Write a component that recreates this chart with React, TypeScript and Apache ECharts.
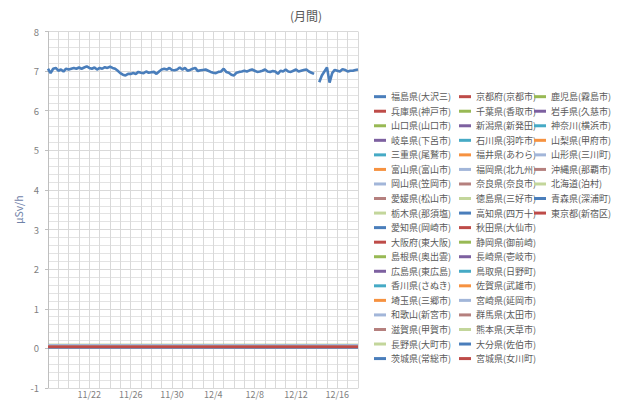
import React, { useEffect, useRef } from 'react';
import * as echarts from 'echarts';

// ---- data ----
const titleText = '(月間)';
const yAxisName = 'μSv/h';
const dayCount = 30; // 11/18 .. 12/18
const tickLabelDays = [4, 8, 12, 16, 20, 24, 28];
const tickLabels = ['11/22', '11/26', '11/30', '12/4', '12/8', '12/12', '12/16'];
const stepDays = 0.25; // Fukushima sampled every 6 hours

const fukushima: (number | null)[] = [
  7.06, 6.95, 7.06, 7.08, 7.01, 7.04, 6.99, 7.06, 7.04, 7.06,
  7.08, 7.06, 7.09, 7.06, 7.09, 7.12, 7.08, 7.06, 7.09, 7.04,
  7.08, 7.06, 7.10, 7.08, 7.11, 7.08, 7.06, 7.01, 6.95, 6.91,
  6.89, 6.93, 6.93, 6.95, 6.93, 6.98, 6.96, 6.95, 6.99, 6.96,
  6.97, 6.98, 6.93, 6.99, 7.04, 7.06, 7.04, 7.08, 7.03, 7.02,
  7.04, 7.09, 7.04, 7.08, 7.01, 7.03, 7.06, 7.08, 7.00, 7.02,
  7.03, 7.04, 7.01, 6.98, 6.96, 6.95, 6.98, 6.99, 7.06, 6.98,
  6.96, 6.91, 6.89, 6.96, 6.98, 6.99, 7.01, 6.99, 7.02, 7.04,
  7.01, 6.98, 6.99, 7.01, 7.04, 6.99, 6.98, 7.00, 6.99, 6.93,
  7.01, 6.99, 7.04, 6.99, 6.98, 7.01, 7.04, 6.99, 7.01, 7.03,
  7.04, 6.99, 6.96, 6.93,
  null,
  6.72, 6.89, 6.99, 7.09, 6.71,
  6.95, 7.03, 7.01, 6.99, 7.05, 7.03, 6.99, 7.01, 7.01, 7.03, 7.04,
];

const legendCol1 = [
  '福島県(大沢三)', '兵庫県(神戸市)', '山口県(山口市)', '岐阜県(下呂市)', '三重県(尾鷲市)',
  '富山県(富山市)', '岡山県(笠岡市)', '愛媛県(松山市)', '栃木県(那須塩)', '愛知県(岡崎市)',
  '大阪府(東大阪)', '島根県(奥出雲)', '広島県(東広島)', '香川県(さぬき)', '埼玉県(三郷市)',
  '和歌山(新宮市)', '滋賀県(甲賀市)', '長野県(大町市)', '茨城県(常総市)',
];
const legendCol2 = [
  '京都府(京都市)', '千葉県(香取市)', '新潟県(新発田)', '石川県(羽咋市)', '福井県(あわら)',
  '福岡県(北九州)', '奈良県(奈良市)', '徳島県(三好市)', '高知県(四万十)', '秋田県(大仙市)',
  '静岡県(御前崎)', '長崎県(壱岐市)', '鳥取県(日野町)', '佐賀県(武雄市)', '宮崎県(延岡市)',
  '群馬県(太田市)', '熊本県(天草市)', '大分県(佐伯市)', '宮城県(女川町)',
];
const legendCol3 = [
  '鹿児島(霧島市)', '岩手県(久慈市)', '神奈川(横浜市)', '山梨県(甲府市)', '山形県(三川町)',
  '沖縄県(那覇市)', '北海道(泊村)', '青森県(深浦町)', '東京都(新宿区)',
];

// other prefectures: readings at days 0, 10, 20, 30 (same order as legend, after Fukushima)
const lowDays = [0, 10, 20, 30];
const lowLevels: number[][] = [
  [0.04, 0.04, 0.05, 0.04], [0.09, 0.09, 0.09, 0.09], [0.06, 0.06, 0.06, 0.06], [0.05, 0.05, 0.05, 0.05],
  [0.06, 0.06, 0.05, 0.06], [0.05, 0.05, 0.05, 0.05], [0.05, 0.05, 0.05, 0.05], [0.07, 0.07, 0.07, 0.07],
  [0.04, 0.04, 0.04, 0.04], [0.05, 0.05, 0.05, 0.05], [0.04, 0.04, 0.04, 0.04], [0.05, 0.05, 0.05, 0.05],
  [0.05, 0.05, 0.05, 0.05], [0.05, 0.05, 0.05, 0.05], [0.03, 0.03, 0.03, 0.03], [0.03, 0.03, 0.03, 0.03],
  [0.05, 0.05, 0.05, 0.05], [0.06, 0.06, 0.06, 0.06],
  [0.04, 0.04, 0.04, 0.04], [0.03, 0.03, 0.03, 0.03], [0.05, 0.05, 0.05, 0.05], [0.05, 0.05, 0.05, 0.05],
  [0.05, 0.05, 0.05, 0.05], [0.04, 0.04, 0.04, 0.04], [0.05, 0.05, 0.05, 0.05], [0.04, 0.04, 0.04, 0.04],
  [0.02, 0.02, 0.02, 0.02], [0.04, 0.04, 0.04, 0.04], [0.04, 0.04, 0.04, 0.04], [0.03, 0.03, 0.03, 0.03],
  [0.06, 0.06, 0.06, 0.06], [0.04, 0.04, 0.04, 0.04], [0.03, 0.03, 0.03, 0.03], [0.07, 0.07, 0.07, 0.07],
  [0.03, 0.03, 0.03, 0.03], [0.05, 0.05, 0.05, 0.05], [0.05, 0.05, 0.05, 0.05],
  [0.04, 0.04, 0.04, 0.04], [0.02, 0.02, 0.02, 0.02], [0.04, 0.04, 0.04, 0.04], [0.04, 0.04, 0.04, 0.04],
  [0.08, 0.08, 0.08, 0.08], [0.06, 0.06, 0.06, 0.06], [0.03, 0.03, 0.03, 0.03], [0.03, 0.03, 0.03, 0.03],
  [0.04, 0.04, 0.04, 0.04],
];

const palette = ['#4A7EBB', '#BE4B48', '#98B954', '#7D60A0', '#46AAC5', '#F69240', '#A2B6D9', '#B5807E', '#C3D69B'];

const FONT = '"Noto Sans CJK JP", "Noto Sans", sans-serif';

export default function App() {
  const ref = useRef<HTMLDivElement>(null);
  useEffect(() => {
    if (!ref.current) return;
    const chart = echarts.init(ref.current, undefined, { renderer: 'svg' });
    const names = [...legendCol1, ...legendCol2, ...legendCol3];
    const series: any[] = names.map((name, i) => {
      const data =
        i === 0
          ? fukushima.map((v, k) => [k * stepDays, v])
          : lowDays.map((d, j) => [d, lowLevels[i - 1][j]]);
      return {
        name,
        type: 'line',
        data,
        symbol: 'none',
        showSymbol: false,
        connectNulls: false,
        color: palette[i % palette.length],
        lineStyle: { width: i === 0 ? 2.6 : 2.2, color: palette[i % palette.length] },
        z: i === 0 ? 3 : 2,
      };
    });
    const legendBase = {
      orient: 'vertical',
      top: 89.4,
      padding: 0,
      itemGap: 0,
      itemWidth: 12,
      itemHeight: 3,
      icon: 'rect',
      selectedMode: false,
      textStyle: { fontSize: 9, color: '#595959', fontFamily: FONT, lineHeight: 14.55 },
    };
    chart.setOption({
      animation: false,
      backgroundColor: '#ffffff',
      textStyle: { fontFamily: FONT },
      title: {
        text: titleText,
        left: 290,
        top: 9,
        padding: 0,
        textStyle: { fontSize: 12, fontWeight: 'normal', color: '#595959', fontFamily: FONT },
      },
      legend: [
        { ...legendBase, left: 374, data: legendCol1 },
        { ...legendBase, left: 459, data: legendCol2 },
        { ...legendBase, left: 534, data: legendCol3 },
      ],
      grid: { left: 48, right: 282, top: 31.5, bottom: 12, containLabel: false },
      xAxis: {
        type: 'value',
        min: 0,
        max: dayCount,
        interval: 1,
        axisLine: { show: true, onZero: false, lineStyle: { color: '#D9D9D9', width: 1 } },
        axisTick: { show: false },
        splitLine: { show: true, lineStyle: { color: '#D9D9D9', width: 1 } },
        axisLabel: {
          margin: 1.5,
          fontSize: 9,
          color: '#7F7F7F',
          formatter: (v: number) => {
            const idx = tickLabelDays.indexOf(Math.round(v));
            return idx >= 0 && Math.abs(v - Math.round(v)) < 1e-6 ? tickLabels[idx] : '';
          },
        },
      },
      yAxis: {
        type: 'value',
        min: -1,
        max: 8,
        interval: 1,
        name: yAxisName,
        nameLocation: 'middle',
        nameGap: 24,
        nameTextStyle: { color: '#6F82A8', fontSize: 10.5, fontFamily: FONT },
        axisLine: { show: true, lineStyle: { color: '#BFBFBF', width: 1 } },
        axisTick: { show: true, length: 3, lineStyle: { color: '#BFBFBF' } },
        minorTick: { show: false, splitNumber: 5 },
        splitLine: { show: true, lineStyle: { color: '#D9D9D9', width: 1 } },
        minorSplitLine: { show: true, lineStyle: { color: '#E3E3E3', width: 1 } },
        axisLabel: { margin: 9, fontSize: 9.5, color: '#7F7F7F' },
      },
      series,
    });
    return () => chart.dispose();
  }, []);
  return (
    <div
      ref={ref}
      style={{ position: 'fixed', left: 0, top: 0, width: 640, height: 400, background: '#fff' }}
    />
  );
}
